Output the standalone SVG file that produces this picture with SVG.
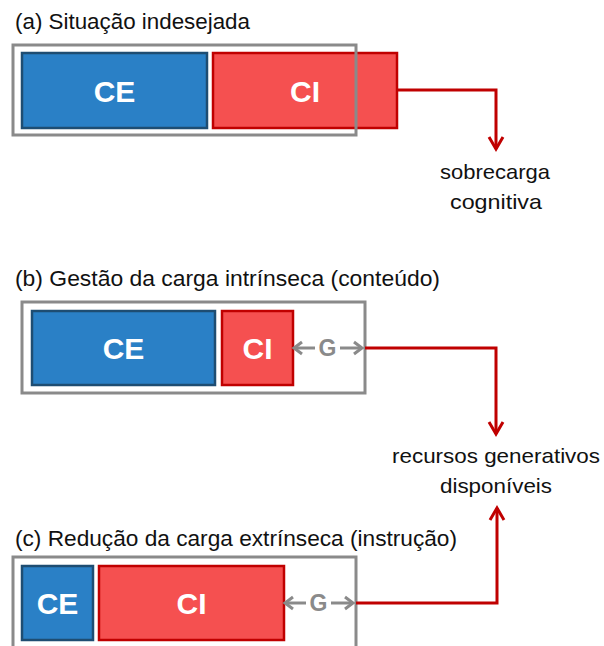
<svg xmlns="http://www.w3.org/2000/svg" width="604" height="646" viewBox="0 0 604 646">
  <defs>
    <style>
      .title { font-family: "Liberation Sans", Arial, sans-serif; font-size: 22px; fill: #111; }
      .label { font-family: "Liberation Sans", Arial, sans-serif; font-size: 21px; fill: #111; text-anchor: middle; }
      .frame { fill: none; stroke: #8a8a8a; stroke-width: 3; }
      .ce { fill: #2a80c6; stroke: #1e4d72; stroke-width: 2.5; }
      .ci { fill: #f55050; stroke: #c00000; stroke-width: 2.5; }
      .box-text { font-family: "Liberation Sans", Arial, sans-serif; font-weight: bold; font-size: 30px; fill: #fff; text-anchor: middle; }
      .g-text { font-family: "Liberation Sans", Arial, sans-serif; font-weight: bold; font-size: 23px; fill: #8a8a8a; text-anchor: middle; }
      .g-line { fill: none; stroke: #8a8a8a; stroke-width: 3; marker-end: url(#gray-head); }
      .link { fill: none; stroke: #c00000; stroke-width: 3; marker-end: url(#red-head); }
    </style>
    <marker id="red-head" markerUnits="userSpaceOnUse" markerWidth="20" markerHeight="20" refX="15" refY="9" orient="auto">
      <path d="M3,2 L15,9 L3,16" fill="none" stroke="#c00000" stroke-width="3"/>
    </marker>
    <marker id="gray-head" markerUnits="userSpaceOnUse" markerWidth="16" markerHeight="16" refX="12" refY="8" orient="auto">
      <path d="M4,2 L12,8 L4,14" fill="none" stroke="#8a8a8a" stroke-width="3"/>
    </marker>
  </defs>

  <!-- (a) undesirable situation -->
  <g id="panel-a">
    <text class="title" x="15" y="29" textLength="235" lengthAdjust="spacingAndGlyphs">(a) Situação indesejada</text>
    <g id="a-ce">
      <rect class="ce" x="22" y="53" width="185" height="75"/>
      <text class="box-text" x="114.5" y="101.5">CE</text>
    </g>
    <g id="a-ci">
      <rect class="ci" x="213" y="53" width="184" height="75"/>
      <text class="box-text" x="305" y="101.5">CI</text>
    </g>
    <rect id="a-frame" class="frame" x="13" y="45" width="343" height="90"/>
  </g>
  <g id="overload">
    <text class="label" x="495" y="179" textLength="110" lengthAdjust="spacingAndGlyphs">sobrecarga</text>
    <text class="label" x="496" y="209" textLength="92" lengthAdjust="spacingAndGlyphs">cognitiva</text>
  </g>

  <!-- (b) managing intrinsic load -->
  <g id="panel-b">
    <text class="title" x="15" y="286" textLength="425" lengthAdjust="spacingAndGlyphs">(b) Gestão da carga intrínseca (conteúdo)</text>
    <rect id="b-frame" class="frame" x="22" y="302" width="343" height="91"/>
    <g id="b-ce">
      <rect class="ce" x="32" y="311" width="183" height="74"/>
      <text class="box-text" x="123.5" y="358.5">CE</text>
    </g>
    <g id="b-ci">
      <rect class="ci" x="222" y="311" width="71" height="74"/>
      <text class="box-text" x="257.5" y="358.5">CI</text>
    </g>
    <g id="b-g">
      <path class="g-line" d="M315,348 L294,348"/>
      <path class="g-line" d="M340,348 L362,348"/>
      <text class="g-text" x="327.5" y="356">G</text>
    </g>
  </g>
  <g id="resources">
    <text class="label" x="496" y="463" textLength="208" lengthAdjust="spacingAndGlyphs">recursos generativos</text>
    <text class="label" x="496" y="493" textLength="112" lengthAdjust="spacingAndGlyphs">disponíveis</text>
  </g>

  <!-- (c) reducing extraneous load -->
  <g id="panel-c">
    <text class="title" x="15" y="546" textLength="442" lengthAdjust="spacingAndGlyphs">(c) Redução da carga extrínseca (instrução)</text>
    <rect id="c-frame" class="frame" x="13" y="557" width="343" height="100"/>
    <g id="c-ce">
      <rect class="ce" x="22" y="566" width="71" height="74"/>
      <text class="box-text" x="57.5" y="613.5">CE</text>
    </g>
    <g id="c-ci">
      <rect class="ci" x="99" y="566" width="185" height="74"/>
      <text class="box-text" x="191.5" y="613.5">CI</text>
    </g>
    <g id="c-g">
      <path class="g-line" d="M306,603 L285,603"/>
      <path class="g-line" d="M331,603 L353,603"/>
      <text class="g-text" x="318.5" y="611">G</text>
    </g>
  </g>

  <!-- connectors -->
  <g id="connectors">
    <path class="link" d="M397,90 L496,90 L496,149"/>
    <path class="link" d="M365,348 L496,348 L496,434"/>
    <path class="link" d="M356,603 L497,603 L497,508"/>
  </g>
</svg>
